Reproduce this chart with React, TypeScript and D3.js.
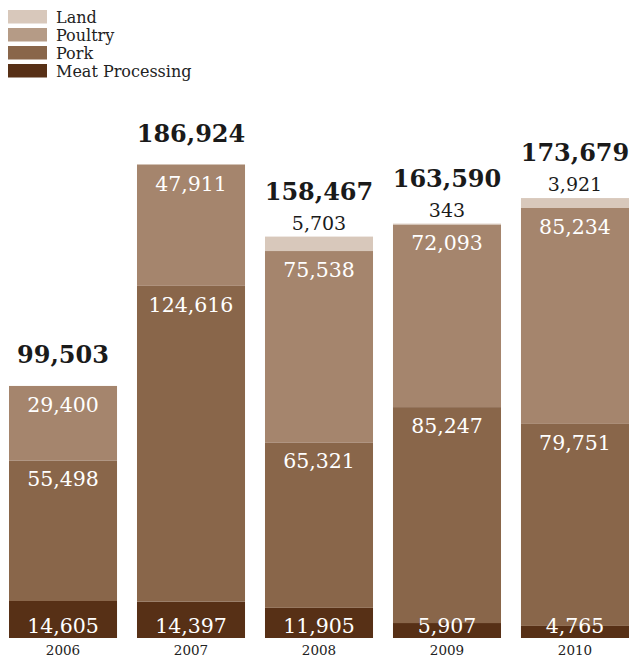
import React from "react";
import * as d3 from "d3";

const years = ["2006", "2007", "2008", "2009", "2010"];
const meatProcessing = [14605, 14397, 11905, 5907, 4765];
const pork = [55498, 124616, 65321, 85247, 79751];
const poultry = [29400, 47911, 75538, 72093, 85234];
const land = [0, 0, 5703, 343, 3921];
const totals = [99503, 186924, 158467, 163590, 173679];

const seriesNames = ["Land", "Poultry", "Pork", "Meat Processing"];
const seriesColors = ["#d8c8bb", "#a5856d", "#89664a", "#573016"];
const legendColors = ["#d8c8bb", "#b59b86", "#89664a", "#573016"];

const W = 629;
const H = 658;
const FONT = "'DejaVu Serif', serif";
const fmt = d3.format(",");

export default function App() {
  const x = d3.scaleBand<string>().domain(years).range([9, 629]).paddingInner(0.156).paddingOuter(0);
  const y = d3.scaleLinear().domain([0, 186924]).range([638, 164.5]);
  const stackKeys = ["meat", "pork", "poultry", "land"];
  const rows = years.map((yr, i) => ({
    year: yr,
    meat: meatProcessing[i],
    pork: pork[i],
    poultry: poultry[i],
    land: land[i],
  }));
  const stack = d3.stack<any>().keys(stackKeys)(rows);
  const colorByKey: Record<string, string> = {
    meat: seriesColors[3],
    pork: seriesColors[2],
    poultry: seriesColors[1],
    land: seriesColors[0],
  };
  const bw = x.bandwidth();

  return (
    <svg width={W} height={H} style={{ position: "absolute", left: 0, top: 0 }} fontFamily={FONT}>
      {/* legend */}
      {seriesNames.map((n, i) => (
        <g key={n} transform={`translate(8, ${10 + i * 18})`}>
          <rect x={0} y={0} width={39} height={13.5} fill={legendColors[i]} />
          <text x={48} y={12.5} fontSize={16} fill="#222">{n}</text>
        </g>
      ))}
      {/* bars */}
      {stack.map((layer) => (
        <g key={layer.key}>
          {layer.map((d, i) => {
            const h = y(d[0]) - y(d[1]);
            if (h <= 0) return null;
            return (
              <rect
                key={i}
                x={x(years[i])}
                y={y(d[1])}
                width={bw}
                height={h}
                fill={colorByKey[layer.key]}
              />
            );
          })}
        </g>
      ))}
      {/* segment labels */}
      {stack.map((layer) =>
        layer.map((d, i) => {
          const v = d[1] - d[0];
          const cx = (x(years[i]) as number) + bw / 2;
          if (layer.key === "land") {
            if (v <= 0) return null;
            return (
              <text key={layer.key + i} x={cx} y={y(d[1]) - 7} textAnchor="middle" fontSize={19} fill="#1a1a1a">
                {fmt(v)}
              </text>
            );
          }
          const ty = layer.key === "meat" ? y(0) - 5 : y(d[1]) + 26;
          return (
            <text key={layer.key + i} x={cx} y={ty} textAnchor="middle" fontSize={20.5} fill="#fff">
              {fmt(v)}
            </text>
          );
        })
      )}
      {/* totals */}
      {years.map((yr, i) => {
        const top = y(meatProcessing[i] + pork[i] + poultry[i] + land[i]);
        const ty = land[i] > 0 ? top - 37 : top - 22.5;
        return (
          <text key={"t" + yr} x={(x(yr) as number) + bw / 2} y={ty} textAnchor="middle" fontSize={24} fontWeight="bold" fill="#1a1a1a">
            {fmt(totals[i])}
          </text>
        );
      })}
      {/* year axis */}
      {years.map((yr) => (
        <text key={"y" + yr} x={(x(yr) as number) + bw / 2} y={654.5} textAnchor="middle" fontSize={13.5} fill="#222">
          {yr}
        </text>
      ))}
    </svg>
  );
}
